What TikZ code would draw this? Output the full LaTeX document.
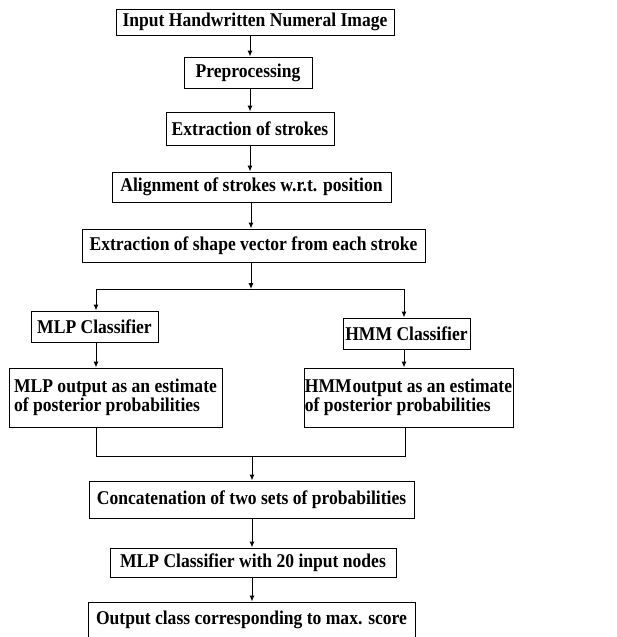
\documentclass[tikz,border=0pt]{standalone}
\usepackage{fontspec}
\setmainfont{Liberation Serif}[FakeStretch=0.9]
\usetikzlibrary{arrows.meta}
\begin{document}
\begin{tikzpicture}[x=1pt,y=-1pt,
  box/.style={draw,line width=1pt,inner sep=0pt,minimum height=#1,font=\fontsize{19.5}{19.5}\selectfont\bfseries},
  box/.default=31pt,
  arr/.style={line width=1pt,-{Latex[length=6pt,width=5pt]}},
  ln/.style={line width=1pt}]
\useasboundingbox (0,0) rectangle (617,637);
\node[box=26pt,minimum width=278pt] (B1) at (255,22) {Input Handwritten Numeral Image};
\node[box=31pt,minimum width=128pt] (B2) at (248,72.5) {Preprocessing};
\node[box=33pt,minimum width=168pt] (B3) at (250,128.5) {Extraction of strokes};
\node[box=30pt,minimum width=279pt] (B4) at (251.5,187) {Alignment of strokes w.r.t. position};
\node[box=33pt,minimum width=343pt] (B5) at (253.5,245.5) {Extraction of shape vector from each stroke};
\node[box=31pt,minimum width=127pt] (MLP) at (94.5,326.5) {MLP Classifier};
\node[box=31pt,minimum width=127pt] (HMM) at (406.5,333.5) {HMM Classifier};
\node[box=59pt,minimum width=213pt,align=left] (MLPo) at (115.5,397.5) {MLP output as an estimate\\of posterior probabilities};
\node[box=59pt,minimum width=209pt,align=left] (HMMo) at (408.5,397.5) {HMM\kern1pt output as an estimate\\of posterior probabilities};
\node[box=37pt,minimum width=325pt] (CON) at (251.5,499.5) {Concatenation of two sets of probabilities};
\node[box=29pt,minimum width=286pt] (M20) at (253,562.5) {MLP Classifier with 20 input nodes};
\node[box=36pt,minimum width=327pt] (OUT) at (251.5,620) {Output class corresponding to max. score};
\coordinate (a1) at (250,0);
\coordinate (a2) at (251,0);
\coordinate (a3) at (252,0);
\coordinate (jM) at (251,289);
\coordinate (jL) at (96,289);
\coordinate (jR) at (404,289);
\coordinate (kL) at (96,456);
\coordinate (kR) at (405,456);
\coordinate (kM) at (252,456);
\draw[arr] (B1.south -| a1) -- (B2.north -| a1);
\draw[arr] (B2.south -| a1) -- (B3.north -| a1);
\draw[arr] (B3.south -| a1) -- (B4.north -| a1);
\draw[arr] (B4.south -| a2) -- (B5.north -| a2);
\draw[arr] (B5.south -| a2) -- (jM);
\draw[ln] (jL) -- (jR);
\draw[arr] (jL) -- (jL |- MLP.north);
\draw[arr] (jR) -- (jR |- HMM.north);
\draw[arr] (MLP.south -| jL) -- (MLPo.north -| jL);
\draw[arr] (HMM.south -| jR) -- (HMMo.north -| jR);
\draw[ln] (MLPo.south -| kL) -- (kL) -- (kR) -- (HMMo.south -| kR);
\draw[arr] (kM) -- (CON.north -| kM);
\draw[arr] (CON.south -| a3) -- (M20.north -| a3);
\draw[arr] (M20.south -| a3) -- (OUT.north -| a3);
\end{tikzpicture}
\end{document}
